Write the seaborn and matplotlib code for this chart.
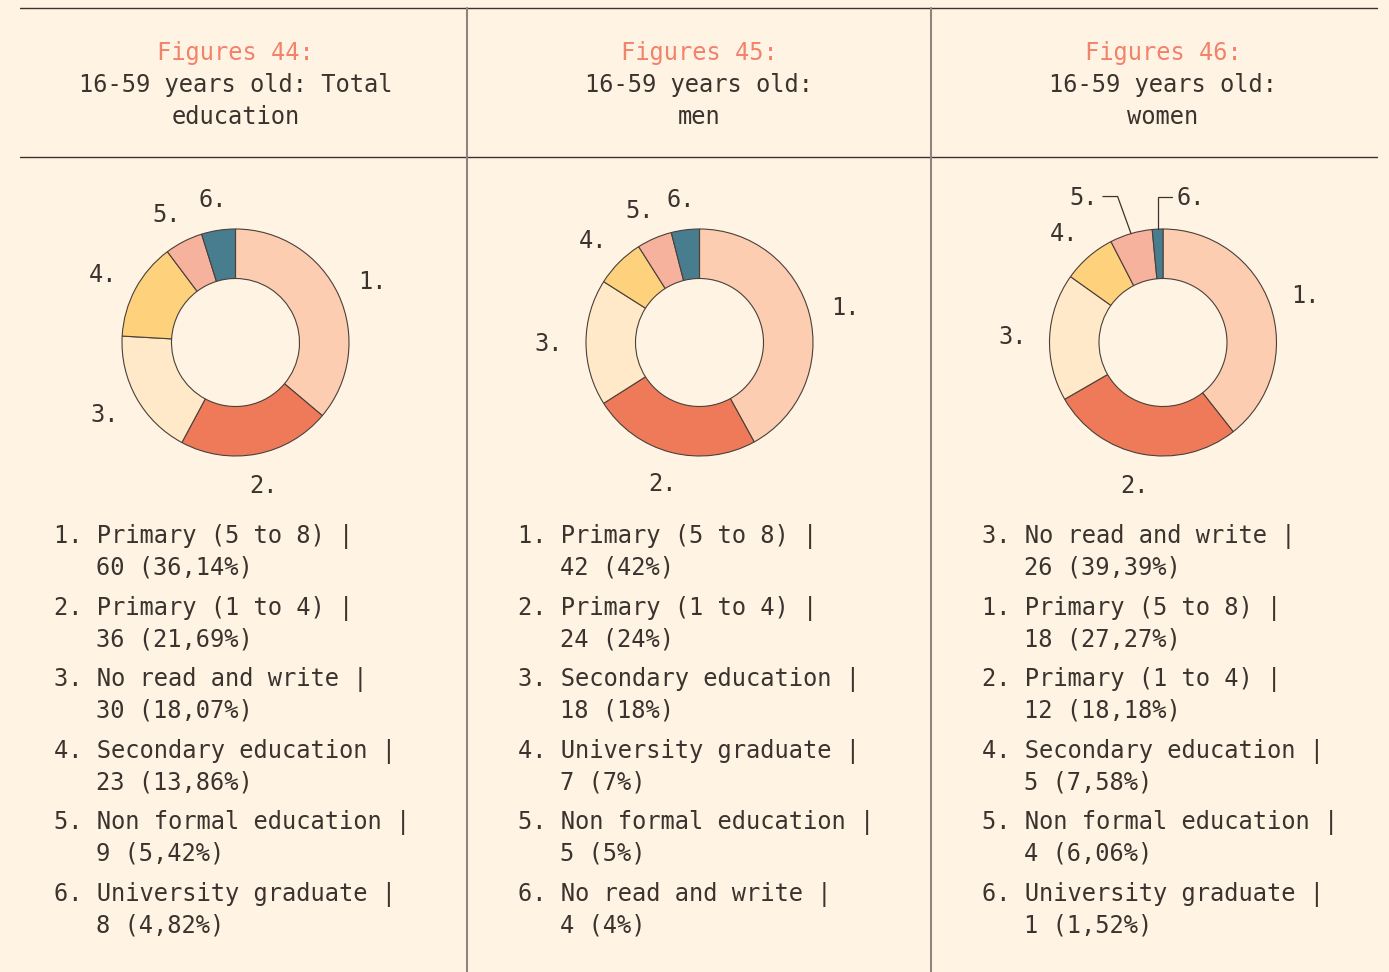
import matplotlib
matplotlib.use("Agg")
import matplotlib.pyplot as plt
from matplotlib.lines import Line2D
import numpy as np
import seaborn as sns

# ---- data -------------------------------------------------------------
figure_numbers = ["Figures 44:", "Figures 45:", "Figures 46:"]
subtitles = [
    ["16-59 years old: Total", "education"],
    ["16-59 years old:", "men"],
    ["16-59 years old:", "women"],
]

total_values = [60, 36, 30, 23, 9, 8]
men_values = [42, 24, 18, 7, 5, 4]
women_values = [26, 18, 12, 5, 4, 1]

total_categories = ["Primary (5 to 8)", "Primary (1 to 4)", "No read and write",
                    "Secondary education", "Non formal education", "University graduate"]
men_categories = ["Primary (5 to 8)", "Primary (1 to 4)", "Secondary education",
                  "University graduate", "Non formal education", "No read and write"]
women_categories = ["No read and write", "Primary (5 to 8)", "Primary (1 to 4)",
                    "Secondary education", "Non formal education", "University graduate"]

total_numbers = [1, 2, 3, 4, 5, 6]
men_numbers = [1, 2, 3, 4, 5, 6]
women_numbers = [3, 1, 2, 4, 5, 6]

# ---- style ------------------------------------------------------------
W, H, DPI = 1389, 972, 100
BG = "#FFF3E3"
INK = "#3B332E"
ACCENT = "#F2826A"
RULE_DARK = "#3A322D"
RULE_GREY = "#8E847B"
SLICE_COLORS = ["#FCCDB0", "#EF7A5A", "#FFE9C8", "#FED27C", "#F6B29C", "#477D8E"]
FONT = "DejaVu Sans Mono"
FS = 17.1

sns.set_theme(style="white", rc={"figure.facecolor": BG, "axes.facecolor": BG,
                                 "savefig.facecolor": BG, "text.color": INK})
plt.rcParams["font.family"] = [FONT, "DejaVu Sans"]
palette = sns.color_palette(SLICE_COLORS)

fig = plt.figure(figsize=(W / DPI, H / DPI), dpi=DPI)


def fx(px):
    return px / W


def fy(py):
    return 1 - py / H


def fmt_share(v, total):
    pct = 100 * v / total
    if abs(pct - round(pct)) < 1e-9:
        return f"{v} ({int(round(pct))}%)"
    return f"{v} ({pct:.2f}%)".replace(".", ",")


# ---- frame rules ------------------------------------------------------
for y in (8, 157):
    fig.add_artist(Line2D([fx(20), fx(1377)], [fy(y), fy(y)], color=RULE_DARK, lw=1.0))
for x in (467, 931):
    fig.add_artist(Line2D([fx(x), fx(x)], [fy(8), fy(972)], color=RULE_GREY, lw=1.5))

panels = [
    (total_values, total_categories, total_numbers),
    (men_values, men_categories, men_numbers),
    (women_values, women_categories, women_numbers),
]
col_centers = [235.5, 699.5, 1163.0]
legend_left = [54, 518, 982]

DONUT_CY = 342.5
R_PX = 113.5
AX_PX = 400
HOLE = 64 / 113.5
# slice labels: anchor ring plus half the label box pushed outward
LABEL_R = 136 / R_PX
HALF_W = 14.5 / R_PX
HALF_H = 9.0 / R_PX

# crowded small slices in the last panel get an elbow leader line
leaders = {2: {4: (-0.118, -1), 5: (0.0, 1)}}
LEADER_Y = 1.286
TAIL = 0.13

for i, ((values, cats, nums), cx) in enumerate(zip(panels, col_centers)):
    # titles
    fig.text(fx(cx), fy(60), figure_numbers[i], color=ACCENT, fontsize=FS,
             ha="center", va="baseline", family=FONT)
    for k, line in enumerate(subtitles[i]):
        fig.text(fx(cx), fy(92 + 32 * k), line, color=INK, fontsize=FS,
                 ha="center", va="baseline", family=FONT)

    # donut
    ax = fig.add_axes([fx(cx - AX_PX / 2), fy(DONUT_CY + AX_PX / 2), AX_PX / W, AX_PX / H])
    ax.pie(values, colors=palette, startangle=90, counterclock=False, radius=1,
           wedgeprops=dict(width=1 - HOLE, edgecolor="#4A403A", linewidth=0.8))
    lim = AX_PX / 2 / R_PX
    ax.set_xlim(-lim, lim)
    ax.set_ylim(-lim, lim)
    ax.set_aspect("equal")
    ax.axis("off")

    vals = np.asarray(values, dtype=float)
    frac = vals / vals.sum()
    mids = np.cumsum(frac) - frac / 2
    angles = np.deg2rad(90 - 360 * mids)
    for j, a in enumerate(angles):
        lbl = f"{j + 1}."
        if j in leaders.get(i, {}):
            dx, side = leaders[i][j]
            ex, ey = np.cos(a), np.sin(a)
            kx = ex + dx
            tx = kx + side * TAIL
            ax.plot([ex, kx, tx], [ey, LEADER_Y, LEADER_Y], color=INK, lw=0.9,
                    solid_joinstyle="miter")
            ax.text(tx + side * 0.04, LEADER_Y - 0.015, lbl, fontsize=FS, color=INK,
                    ha="left" if side > 0 else "right", va="center", family=FONT)
        else:
            c, s = np.cos(a), np.sin(a)
            ax.text(LABEL_R * c + HALF_W * c, LABEL_R * s + HALF_H * s - 0.01, lbl,
                    fontsize=FS, color=INK, ha="center", va="center", family=FONT)

    # legend list
    total = sum(values)
    x0 = legend_left[i]
    for k, (v, c, n) in enumerate(zip(values, cats, nums)):
        base = 543 + 71.6 * k
        fig.text(fx(x0), fy(base), f"{n}. {c} |", fontsize=FS, color=INK,
                 ha="left", va="baseline", family=FONT)
        fig.text(fx(x0 + 42), fy(base + 31.5), fmt_share(v, total), fontsize=FS,
                 color=INK, ha="left", va="baseline", family=FONT)

fig.savefig("out.png", dpi=DPI, facecolor=BG)
